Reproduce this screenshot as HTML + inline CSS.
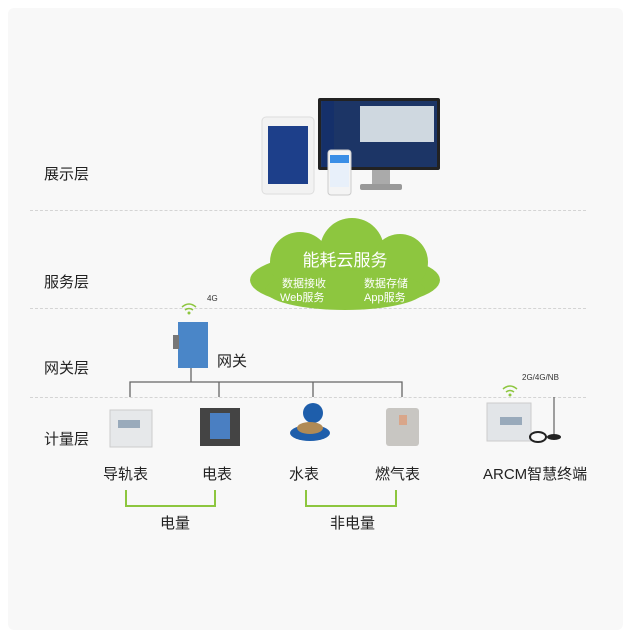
<!DOCTYPE html>
<html><head><meta charset="utf-8"><style>
body{margin:0;width:631px;height:638px;background:#fff;font-family:"Liberation Sans","Noto Sans CJK SC",sans-serif;position:relative;overflow:hidden}
.bg{position:absolute;left:8px;top:8px;width:615px;height:622px;background:#f8f8f8;border-radius:6px}
.t{position:absolute;color:#222;font-size:15px;white-space:nowrap}
.d{position:absolute;left:30px;width:556px;border-top:1px dashed #d4d4d4}
.a{position:absolute}
</style></head><body>
<div class="bg"></div>
<div class="d" style="top:210px"></div>
<div class="d" style="top:308px"></div>
<div class="d" style="top:397px"></div>
<div class="t" style="left:44px;top:163px">展示层</div>
<div class="t" style="left:44px;top:271px">服务层</div>
<div class="t" style="left:44px;top:357px">网关层</div>
<div class="t" style="left:44px;top:428px">计量层</div>
<svg class="a" style="left:0;top:0" width="631" height="638">
<!-- tablet -->
<rect x="262" y="117" width="52" height="77" rx="4" fill="#f2f2f2" stroke="#ddd"/>
<rect x="268" y="126" width="40" height="58" fill="#1d3f8a"/>
<!-- monitor -->
<rect x="318" y="98" width="122" height="72" rx="2" fill="#222"/>
<rect x="321" y="101" width="116" height="66" fill="#1c3566"/>
<rect x="360" y="106" width="74" height="36" fill="#cfd8e0"/>
<rect x="322" y="101" width="12" height="66" fill="#15306a"/>
<rect x="372" y="170" width="18" height="14" fill="#aaa"/>
<rect x="360" y="184" width="42" height="6" rx="2" fill="#999"/>
<!-- phone -->
<rect x="328" y="150" width="23" height="45" rx="3" fill="#f4f4f4" stroke="#ccc"/>
<rect x="330" y="155" width="19" height="32" fill="#e8f0fa"/>
<rect x="330" y="155" width="19" height="8" fill="#3a8ee6"/>
<!-- cloud -->
<g fill="#8dc63f">
<ellipse cx="345" cy="280" rx="95" ry="28"/>
<circle cx="300" cy="262" r="30"/>
<circle cx="352" cy="250" r="32"/>
<circle cx="400" cy="262" r="28"/>
<ellipse cx="345" cy="290" rx="80" ry="20"/>
</g>
<text x="345" y="266" text-anchor="middle" font-size="17" fill="#fff">能耗云服务</text>
<text x="282" y="287" font-size="11" fill="#fff">数据接收</text>
<text x="364" y="287" font-size="11" fill="#fff">数据存储</text>
<text x="280" y="301" font-size="11" fill="#fff">Web服务</text>
<text x="364" y="301" font-size="11" fill="#fff">App服务</text>
<!-- gateway -->
<rect x="178" y="322" width="30" height="46" fill="#4a86c8"/>
<rect x="173" y="335" width="6" height="14" fill="#777"/>
<g fill="none" stroke="#8dc63f" stroke-width="1.5">
<path d="M182 307 q7-6 14 0"/><path d="M185 310 q4-3 8 0"/>
<path d="M503 389 q7-6 14 0"/><path d="M506 392 q4-3 8 0"/>
</g>
<circle cx="189" cy="313" r="1.5" fill="#8dc63f"/>
<circle cx="510" cy="395" r="1.5" fill="#8dc63f"/>
<text x="207" y="301" font-size="8" fill="#333">4G</text>
<text x="522" y="380" font-size="8" fill="#333">2G/4G/NB</text>
<!-- tree -->
<g stroke="#666" stroke-width="1.3" fill="none">
<path d="M191 368V382M130 397V382H402V397M219 382V397M313 382V397"/>
</g>
<!-- meters -->
<rect x="110" y="410" width="42" height="37" fill="#e6e8ea" stroke="#ccc"/>
<rect x="118" y="420" width="22" height="8" fill="#9ab"/>
<rect x="200" y="408" width="40" height="38" fill="#444"/>
<rect x="210" y="413" width="20" height="26" fill="#4a7fc2"/>
<circle cx="313" cy="413" r="10" fill="#1e5eab"/>
<ellipse cx="310" cy="433" rx="20" ry="8" fill="#1e5eab"/>
<ellipse cx="310" cy="428" rx="13" ry="6" fill="#b08a55"/>
<rect x="386" y="408" width="33" height="38" rx="3" fill="#c8c6c2"/>
<rect x="399" y="415" width="8" height="10" fill="#d9a68a"/>
<rect x="487" y="403" width="44" height="38" fill="#e2e5e8" stroke="#ccc"/>
<rect x="500" y="417" width="22" height="8" fill="#9ab"/>
<line x1="554" y1="397" x2="554" y2="435" stroke="#444"/>
<ellipse cx="554" cy="437" rx="7" ry="3" fill="#222"/>
<ellipse cx="538" cy="437" rx="8" ry="5" fill="none" stroke="#222" stroke-width="2"/>
<!-- brackets -->
<g stroke="#8dc63f" stroke-width="2" fill="none">
<path d="M126 490V506H215V490"/><path d="M306 490V506H396V490"/>
</g>
</svg>
<div class="t" style="left:103px;top:463px">导轨表</div>
<div class="t" style="left:202px;top:463px">电表</div>
<div class="t" style="left:289px;top:463px">水表</div>
<div class="t" style="left:375px;top:463px">燃气表</div>
<div class="t" style="left:483px;top:463px">ARCM智慧终端</div>
<div class="t" style="left:217px;top:350px">网关</div>
<div class="t" style="left:160px;top:512px">电量</div>
<div class="t" style="left:330px;top:512px">非电量</div>
</body></html>
